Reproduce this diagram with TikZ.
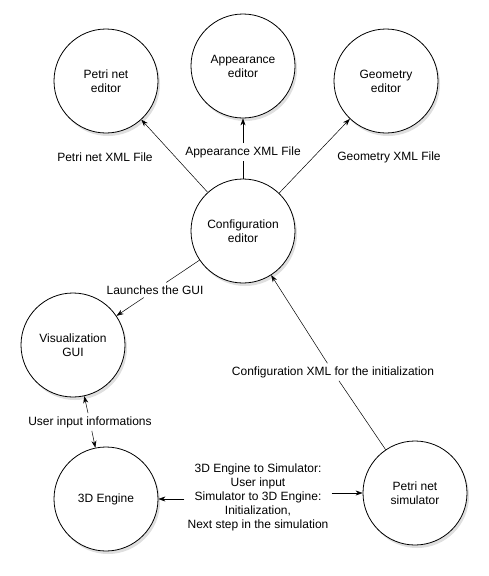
\documentclass[tikz,border=0pt]{standalone}
\usepackage{fontspec}
\setmainfont{Liberation Sans}
\usetikzlibrary{arrows.meta,shadows}

\begin{document}
\begin{tikzpicture}[x=1pt, y=-1pt,
		font=\fontsize{12}{14}\selectfont,
		compnode/.style={draw, circle, line width=0.8pt, fill=white, minimum size=104pt, align=center,
			drop shadow={opacity=0.25, shadow xshift=2pt, shadow yshift=-3pt}},
		lbl/.style={align=center, inner sep=3pt},
		link/.style={line width=0.5pt},
		arr/.style={-{Stealth[length=7pt, width=5pt]}, line width=0.5pt}
	]

	\useasboundingbox (0,0) rectangle (488,576);

	% components
	\node[compnode] (pneditor) at (106,81) {Petri net\\editor};
	\node[compnode] (appeditor) at (243,66) {Appearance\\editor};
	\node[compnode] (geoeditor) at (386,81) {Geometry\\editor};
	\node[compnode] (confeditor) at (243,231) {Configuration\\editor};
	\node[compnode] (visgui) at (73,345) {Visualization\\GUI};
	\node[compnode] (engine) at (106,499) {3D Engine};
	\node[compnode] (pnsim) at (415,493) {Petri net\\simulator};

	% labels
	\node[lbl] (pnxml) at (105,157) {Petri net XML File};
	\node[lbl] (appxml) at (243,152) {Appearance XML File};
	\node[lbl] (geoxml) at (389,157) {Geometry XML File};
	\node[lbl] (launch) at (155,290) {Launches the GUI};
	\node[lbl] (confxml) at (333,372) {Configuration XML for the initialization};
	\node[lbl] (userinfo) at (90,422) {User input informations};
	\node[lbl] (simlbl) at (258,497) {3D Engine to Simulator:\\User input\\Simulator to 3D Engine:\\Initialization,\\Next step in the simulation};

	% connectors
	\draw[arr] (confeditor) -- (pneditor);
	\draw[arr] (confeditor) -- (geoeditor);
	\draw[link] (confeditor) -- (appxml);
	\draw[arr] (appxml) -- (appeditor);
	\draw[link] (confeditor) -- (launch);
	\draw[arr] (launch) -- (visgui);
	\draw[link] (pnsim) -- (confxml);
	\draw[arr] (confxml) -- (confeditor);
	\draw[arr] (userinfo) -- (visgui);
	\draw[arr] (userinfo) -- (engine);
	\draw[arr] (simlbl.west |- engine) -- (engine);
	\draw[arr] (simlbl.east |- pnsim) -- (pnsim);

\end{tikzpicture}
\end{document}
